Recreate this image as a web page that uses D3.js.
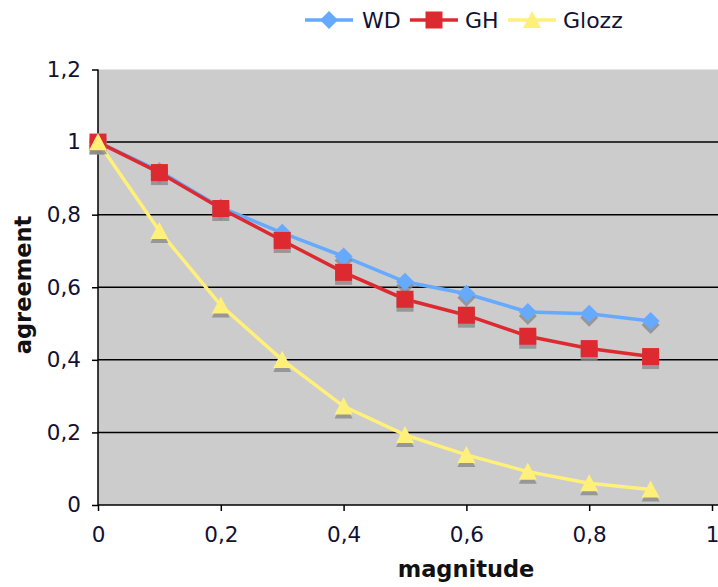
<!DOCTYPE html>
<html><head><meta charset="utf-8">
<script src="https://cdn.jsdelivr.net/npm/d3@7"></script>
<style>body{margin:0;background:#fff}svg{display:block}</style>
</head><body>
<script>
const magnitudes = [0, 0.1, 0.2, 0.3, 0.4, 0.5, 0.6, 0.7, 0.8, 0.9];
const wdValues = [1, 0.92, 0.82, 0.75, 0.685, 0.615, 0.582, 0.532, 0.527, 0.507];
const ghValues = [1, 0.916, 0.817, 0.729, 0.641, 0.567, 0.523, 0.465, 0.431, 0.409];
const glozzValues = [1, 0.755, 0.55, 0.40, 0.272, 0.193, 0.138, 0.092, 0.06, 0.043];
const seriesNames = ["WD", "GH", "Glozz"];
const seriesColors = ["#66aaff", "#dd2a30", "#fff07a"];
const seriesShapes = ["diamond", "square", "triangle"];
const xTicks = [0, 0.2, 0.4, 0.6, 0.8, 1];
const yTicks = [0, 0.2, 0.4, 0.6, 0.8, 1, 1.2];

const W = 718, H = 587;
const svg = d3.select("body").append("svg").attr("width", W).attr("height", H);
const font = "'DejaVu Sans', Verdana, sans-serif";
const x = d3.scaleLinear().domain([0, 1]).range([98, 712]);
const y = d3.scaleLinear().domain([0, 1.2]).range([505, 69.5]);
const fmt = d => String(d).replace(".", ",");

// plot background
svg.append("rect").attr("x", x(0)).attr("y", y(1.2)).attr("width", W - x(0)).attr("height", y(0) - y(1.2)).attr("fill", "#cccccc");

// gridlines
svg.append("g").selectAll("line").data(yTicks.filter(t => t > 0 && t < 1.2)).join("line")
  .attr("x1", x(0)).attr("x2", W).attr("y1", d => y(d)).attr("y2", d => y(d))
  .attr("stroke", "#000").attr("stroke-width", 1.5);

// axes
const yAxis = d3.axisLeft(y).tickValues(yTicks).tickFormat(fmt).tickSize(6).tickPadding(11);
const gy = svg.append("g").attr("transform", `translate(${x(0)},0)`).call(yAxis);
gy.select(".domain").attr("stroke", "#000").attr("stroke-width", 1.5).attr("d", `M-0,${y(1.2)}V${y(0)}`);
gy.selectAll(".tick line").attr("stroke", "#000").attr("stroke-width", 1.5);
gy.selectAll("text").attr("font-family", font).attr("font-size", 21.5).attr("fill", "#111133");

const xAxis = d3.axisBottom(x).tickValues(xTicks).tickFormat(fmt).tickSize(6).tickPadding(16);
const gx = svg.append("g").attr("transform", `translate(0,${y(0)})`).call(xAxis);
gx.select(".domain").attr("stroke", "#000").attr("stroke-width", 1.5).attr("d", `M${x(0)},0H${W}`);
gx.selectAll(".tick line").attr("stroke", "#000").attr("stroke-width", 1.5);
gx.selectAll("text").attr("font-family", font).attr("font-size", 21.5).attr("fill", "#111133");

// axis titles
svg.append("text").attr("x", 466).attr("y", 577).attr("text-anchor", "middle")
  .attr("font-family", font).attr("font-weight", "bold").attr("font-size", 22.5).attr("fill", "#111").text("magnitude");
svg.append("text").attr("transform", "translate(31,285) rotate(-90)").attr("text-anchor", "middle")
  .attr("font-family", font).attr("font-weight", "bold").attr("font-size", 22.5).attr("fill", "#111").text("agreement");

const symbolPath = (shape, s) => {
  if (shape === "diamond") return `M0,${-s}L${s},0L0,${s}L${-s},0Z`;
  if (shape === "square") return `M${-s},${-s}H${s}V${s}H${-s}Z`;
  return `M0,${-s}L${s},${s*0.9}H${-s}Z`;
};
const sizes = {diamond: 9, square: 8.5, triangle: 9};

const allSeries = [wdValues, ghValues, glozzValues];
const line = d3.line().x((d, i) => x(magnitudes[i])).y(d => y(d));

allSeries.forEach((vals, si) => {
  const g = svg.append("g");
  g.append("path").attr("d", line(vals)).attr("fill", "none").attr("stroke", seriesColors[si]).attr("stroke-width", 3.5);
  g.selectAll("path.sh").data(vals).join("path").attr("class", "sh")
    .attr("transform", (d, i) => `translate(${x(magnitudes[i])},${y(d) + 4})`)
    .attr("d", symbolPath(seriesShapes[si], sizes[seriesShapes[si]])).attr("fill", "#8a8a8a").attr("opacity", 0.8);
  g.selectAll("path.mk").data(vals).join("path").attr("class", "mk")
    .attr("transform", (d, i) => `translate(${x(magnitudes[i])},${y(d)})`)
    .attr("d", symbolPath(seriesShapes[si], sizes[seriesShapes[si]])).attr("fill", seriesColors[si]);
});

// legend
const legendX = [305, 410, 508];
const legendTextX = [362, 465, 563];
const ly = 20;
seriesNames.forEach((name, si) => {
  const g = svg.append("g");
  g.append("line").attr("x1", legendX[si]).attr("x2", legendX[si] + 48).attr("y1", ly).attr("y2", ly)
    .attr("stroke", seriesColors[si]).attr("stroke-width", 3.5);
  g.append("path").attr("transform", `translate(${legendX[si] + 24},${ly})`)
    .attr("d", symbolPath(seriesShapes[si], sizes[seriesShapes[si]])).attr("fill", seriesColors[si]);
  g.append("text").attr("x", legendTextX[si]).attr("y", ly + 8).attr("font-family", font).attr("font-size", 22)
    .attr("fill", "#111133").text(name);
});
</script>
</body></html>
